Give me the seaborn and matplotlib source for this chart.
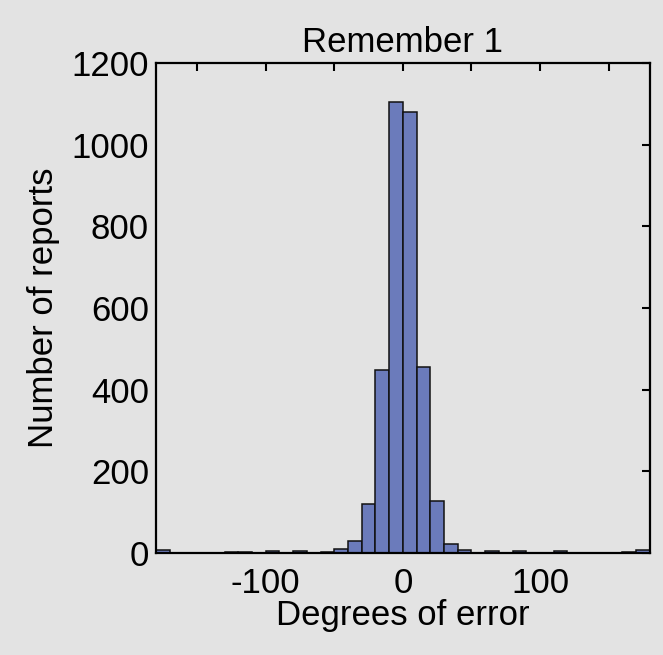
import numpy as np
import pandas as pd
import matplotlib
matplotlib.use("Agg")
import matplotlib.pyplot as plt
import seaborn as sns

# Data: histogram of errors (bin width 10 degrees, -180..180)
bin_edges = list(range(-180, 181, 10))
counts = [7, 1, 1, 0, 1, 3, 3, 1, 4, 1, 5, 1, 2, 9, 29, 119, 448, 1105,
          1080, 455, 128, 21, 8, 1, 4, 1, 5, 1, 1, 4, 1, 1, 1, 1, 2, 7]
bin_centers = [e + 5 for e in bin_edges[:-1]]
x_ticks = [-150, -100, -50, 0, 50, 100, 150]
x_ticklabels = ["", "-100", "", "0", "", "100", ""]
y_ticks = [0, 200, 400, 600, 800, 1000, 1200]

title = "Remember 1"
xlabel = "Degrees of error"
ylabel = "Number of reports"

df = pd.DataFrame({"error": bin_centers, "count": counts})

sns.set_style("white")
plt.rcParams["font.family"] = ["Liberation Sans", "DejaVu Sans"]
plt.rcParams["text.color"] = "black"
plt.rcParams["axes.labelcolor"] = "black"
bg = "#e3e3e3"

fig = plt.figure(figsize=(6.63, 6.55), dpi=100, facecolor=bg)
ax = fig.add_axes([0.2353, 0.1557, 0.7447, 0.7481])
ax.set_facecolor(bg)

sns.histplot(data=df, x="error", weights="count", bins=bin_edges, ax=ax,
             color="#6b7bbb", alpha=1.0, edgecolor="#111111", linewidth=1.1)

ax.set_xlim(-180, 180)
ax.set_ylim(0, 1200)
ax.set_xticks(x_ticks)
ax.set_xticklabels(x_ticklabels)
ax.set_yticks(y_ticks)

fs = 25
ax.tick_params(direction="in", length=6, width=1.5, labelsize=fs,
               top=True, right=True, colors="black", labelcolor="black")
ax.tick_params(axis="x", pad=10)
ax.tick_params(axis="y", pad=5)
for s in ax.spines.values():
    s.set_visible(True)
    s.set_color("black")
    s.set_linewidth(1.6)

ax.set_title(title, fontsize=fs, pad=8, color="black")
ax.set_xlabel(xlabel, fontsize=fs, labelpad=-1, color="black")
ax.set_ylabel(ylabel, fontsize=fs, labelpad=8, color="black")

fig.savefig("out.png", dpi=100, facecolor=bg)
